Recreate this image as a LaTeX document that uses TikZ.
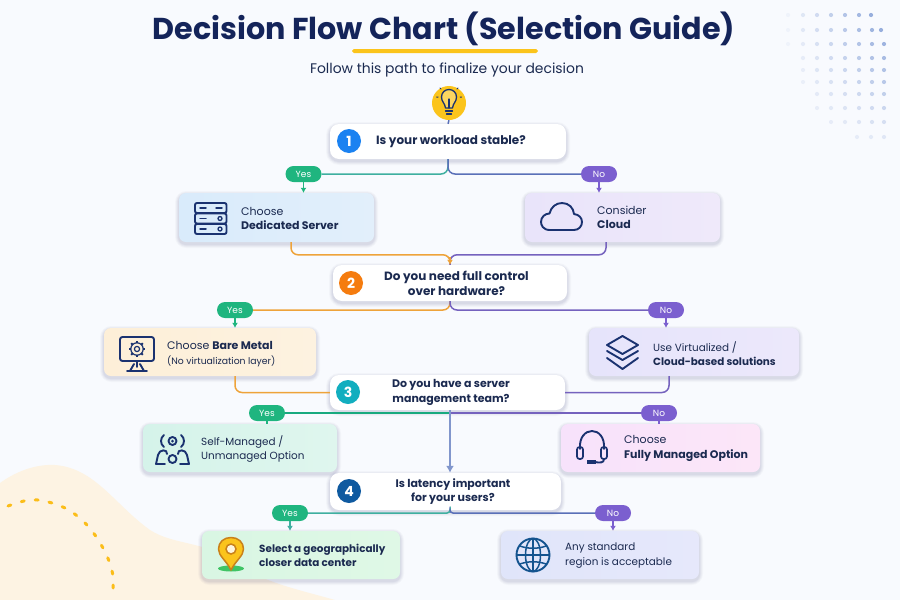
\documentclass[tikz,border=0pt]{standalone}
\usepackage{fontspec}
\setmainfont{Poppins}
\usetikzlibrary{arrows.meta,calc}
\definecolor{bgc}{HTML}{F8FAFE}
\definecolor{navy}{HTML}{14245A}
\definecolor{ink}{HTML}{1B2A50}
\definecolor{iconc}{HTML}{1A3270}
\definecolor{greenc}{HTML}{1FB57F}
\definecolor{purplec}{HTML}{7B5FCF}
\definecolor{tealline}{HTML}{3FAFA0}
\definecolor{blueline}{HTML}{5A70B8}
\definecolor{orangeline}{HTML}{EEA33A}
\definecolor{purpline}{HTML}{7562BE}
\definecolor{downline}{HTML}{8196CC}
\definecolor{blobc}{HTML}{FDF3E3}
\definecolor{sunc}{HTML}{FBC41C}
\definecolor{globec}{HTML}{14548F}
\definecolor{pinc}{HTML}{C9811A}
\definecolor{dotc}{HTML}{6F8FD0}
\definecolor{oneC}{HTML}{1B82F1}
\definecolor{twoC}{HTML}{F57C0F}
\definecolor{threeC}{HTML}{12AEBF}
\definecolor{fourC}{HTML}{0F5AA0}
\definecolor{dediA}{HTML}{D9EBFB}\definecolor{dediB}{HTML}{E2EFFB}
\definecolor{clouA}{HTML}{E9E4FA}\definecolor{clouB}{HTML}{EFE9FA}
\definecolor{bareA}{HTML}{FDEFD8}\definecolor{bareB}{HTML}{FDF2E0}
\definecolor{virtA}{HTML}{E6E4FB}\definecolor{virtB}{HTML}{ECE8FB}
\definecolor{selfA}{HTML}{D5F3EA}\definecolor{selfB}{HTML}{DFF6EE}
\definecolor{fullA}{HTML}{F7E2FB}\definecolor{fullB}{HTML}{FCE6F8}
\definecolor{geoA}{HTML}{D9F6E3}\definecolor{geoB}{HTML}{DFF8E6}
\definecolor{anyA}{HTML}{E0E5FA}\definecolor{anyB}{HTML}{E6E8FB}
\tikzset{
  pilltag/.style={rectangle,rounded corners=8pt,minimum width=36pt,minimum height=16pt,inner sep=0pt,text=white,font=\fontsize{9}{10}\selectfont},
  yespill/.style={pilltag,fill=greenc},
  nopill/.style={pilltag,fill=purplec},
  numdot/.style={circle,minimum size=24pt,inner sep=0pt,text=white,font=\fontsize{14}{14}\bfseries\selectfont},
  questext/.style={align=center,text=ink,font=\fontsize{11}{14.5}\bfseries\selectfont,inner sep=0pt},
  bigques/.style={questext,font=\fontsize{12}{15.5}\bfseries\selectfont},
  cardtext/.style={align=left,anchor=west,text=ink,font=\fontsize{11}{14.5}\selectfont,inner sep=0pt},
  slimtext/.style={cardtext,font=\fontsize{10.4}{14.5}\selectfont},
  link/.style={line width=1.5pt,rounded corners=7pt},
  drop/.style={line width=1.4pt,-{Latex[length=5pt,width=6pt]}},
  icon/.style={draw=iconc,line width=1.9pt,line cap=round,line join=round},
  globeline/.style={draw=globec,line width=1.5pt,line cap=round},
}
% name x1 y1 x2 y2 colour1 colour2 radius
\newcommand{\cardbox}[8]{%
  \foreach \g/\o in {4/0.025,3/0.03,2/0.035,1/0.04}{%
    \fill[black!70!blue,opacity=\o,rounded corners=#8+\g*1pt] ({#2-\g},{#3+2-\g}) rectangle ({#4+\g},{#5+2+\g});
  }%
  \node[rectangle,rounded corners=#8,left color=#6,right color=#7,inner sep=0pt,
    minimum width={(#4-#2)*1pt},minimum height={(#5-#3)*1pt}] (#1) at ({(#2+#4)/2},{(#3+#5)/2}) {};
}
\begin{document}
\begin{tikzpicture}[x=1pt,y=-1pt]
\useasboundingbox (0,0) rectangle (900,600);
\fill[bgc] (0,0) rectangle (900,600);
% backdrop blob and dashed arc
\fill[blobc] (0,483) .. controls (18,470) and (38,464) .. (55,465)
  .. controls (95,468) and (115,505) .. (150,530)
  .. controls (175,546) and (205,540) .. (240,565)
  .. controls (265,583) and (300,590) .. (335,600) -- (0,600) -- cycle;
\draw[sunc!90!orange,line width=3pt,line cap=round,dash pattern=on 3pt off 11pt]
  plot[smooth] coordinates {(8,506) (24,501) (38,500) (52,503) (65,508) (76,515) (86,524) (95,535) (103,548) (109,561) (113,576) (113,593)};
% dots
\foreach \yy/\xlist in {15/{788,803,817,831,845,859,871},30/{788,803,817,831,845,859,872,881},44/{788,803,817,831,845,859,872,884},58/{803,817,831,845,859,872,884},70/{803,817,831,845,859,872,884},82/{803,817,831,845,859,872,884},94/{817,831,845,859,872,884},108/{817,831,845,859,872,884},122/{831,845,859,872,884},137/{857,871,884}}{
  \foreach \xx in \xlist {
    \pgfmathsetmacro{\oo}{max(0.06,min(0.7,(\xx-780)/105*(1.15-(\yy-15)/135)*0.7))}
    \fill[dotc,opacity=\oo] (\xx,\yy) circle (2.1pt);
  }
}
% title
\node[text=navy,font=\fontsize{30.2}{32}\bfseries\selectfont,inner sep=0pt] (title) at (444,29) {Decision Flow Chart (Selection Guide)};
\fill[sunc,rounded corners=1.8pt] (352,49) rectangle (538,53);
\node[text=ink,font=\fontsize{13.9}{15}\selectfont,inner sep=0pt] (subtitle) at (447,70) {Follow this path to finalize your decision};

% cards
\cardbox{dedi}{179}{193}{374}{242}{dediA}{dediB}{7pt}
\cardbox{clou}{525}{193}{720}{242}{clouA}{clouB}{7pt}
\cardbox{bare}{104}{328}{316}{376}{bareA}{bareB}{7pt}
\cardbox{virt}{589}{328}{799}{376}{virtA}{virtB}{7pt}
\cardbox{self}{143}{424}{337}{472}{selfA}{selfB}{7pt}
\cardbox{full}{561}{424}{760}{472}{fullA}{fullB}{7pt}
\cardbox{geo}{202}{531}{400}{579}{geoA}{geoB}{7pt}
\cardbox{anyr}{501}{531}{699}{579}{anyA}{anyB}{7pt}
\cardbox{q1}{330}{124}{566}{159}{white}{white}{9pt}
\cardbox{q2}{333}{265}{567}{301}{white}{white}{9pt}
\cardbox{q3}{330}{375}{565}{410}{white}{white}{9pt}
\cardbox{q4}{330}{473}{561}{510}{white}{white}{9pt}

% bulb badge
\node[circle,fill=sunc,minimum size=34pt,inner sep=0pt] (bulb) at (449,103) {};

% pills
\node[yespill] (y1) at (303.5,174) {Yes};
\node[nopill]  (n1) at (599,174) {No};
\node[yespill] (y2) at (235,310) {Yes};
\node[nopill]  (n2) at (666,310) {No};
\node[yespill] (y3) at (267,413) {Yes};
\node[nopill]  (n3) at (659,413) {No};
\node[yespill] (y4) at (290,513) {Yes};
\node[nopill]  (n4) at (613,513) {No};

% connectors
\draw[line width=1.5pt,blueline] (bulb.south) -- (q1.north);
\draw[link,tealline] (q1.south) |- (y1.east);
\draw[link,blueline] (q1.south) |- (n1.west);
\draw[drop,greenc] (y1.south) -- (y1.south |- dedi.north);
\draw[drop,purplec] (n1.south) -- (n1.south |- clou.north);
\draw[link,orangeline] ([xshift=14.5pt]dedi.south) |- ([yshift=10pt]q2.north) -- (q2.north);
\draw[link,purpline] ([xshift=-16.5pt]clou.south) |- ([yshift=10pt]q2.north) -- (q2.north);
\draw[-{Latex[length=5pt,width=6pt]},line width=1.2pt,orangeline] ([yshift=8pt]q2.north) -- (q2.north);
\draw[link,orangeline] (q2.south) |- (y2.east);
\draw[link,purpline] (q2.south) |- (n2.west);
\draw[drop,greenc] (y2.south) -- (y2.south |- bare.north);
\draw[drop,purplec] (n2.south) -- (n2.south |- virt.north);
\draw[link,orangeline] ([xshift=25pt]bare.south) |- (q3.west);
\draw[link,purpline] ([xshift=-25pt]virt.south) |- (q3.east);
\draw[line width=1.5pt,greenc!80!teal] (y3.east) -- ([xshift=2.5pt]q3.south |- y3.east);
\draw[line width=1.5pt,purpline] ([xshift=2.5pt]q3.south |- n3.west) -- (n3.west);
\draw[line width=1.4pt,downline,-{Latex[length=7pt,width=8pt]}] ([xshift=2.5pt]q3.south) -- ([xshift=4.5pt]q4.north);
\draw[line width=1.4pt,greenc] (y3.south) -- (y3.south |- self.north);
\draw[line width=1.4pt,purplec] (n3.south) -- (n3.south |- full.north);
\draw[link,tealline,rounded corners=3pt] ([xshift=4.5pt]q4.south) |- (y4.east);
\draw[link,blueline,rounded corners=3pt] ([xshift=4.5pt]q4.south) |- (n4.west);
\draw[drop,tealline] (y4.south) -- (y4.south |- geo.north);
\draw[drop,purplec] (n4.south) -- (n4.south |- anyr.north);

% question numbers and text
\node[numdot,fill=oneC] (d1) at (349,141) {1};
\node[numdot,fill=twoC] (d2) at (351,283) {2};
\node[numdot,fill=threeC] (d3) at (348,392) {3};
\node[numdot,fill=fourC] (d4) at (349,491) {4};
\node[bigques] (t1) at (451,142) {Is your workload stable?};
\node[bigques] (t2) at (456.5,283.5) {Do you need full control\\over hardware?};
\node[questext] (t3) at (451,392.5) {Do you have a server\\management team?};
\node[questext] (t4) at (453,491.5) {Is latency important\\for your users?};

% card text
\node[cardtext] (c1) at (241,218.5) {Choose\\\textbf{Dedicated Server}};
\node[cardtext] (c2) at (597,217.5) {Consider\\\textbf{Cloud}};
\node[cardtext] (c3) at (167,354) {Choose \textbf{Bare Metal}\\{\fontsize{9.3}{12}\selectfont (No virtualization layer)}};
\node[slimtext] (c4) at (653,353.5) {Use Virtualized /\\\textbf{Cloud-based solutions}};
\node[slimtext] (c5) at (201,449) {Self-Managed /\\Unmanaged Option};
\node[cardtext] (c6) at (624,448.5) {Choose\\\textbf{Fully Managed Option}};
\node[slimtext] (c7) at (259,555.5) {\textbf{Select a geographically}\\\textbf{closer data center}};
\node[slimtext] (c8) at (565,555.5) {Any standard\\region is acceptable};

% bulb icon
\draw[icon,fill=sunc!70!white,line width=1.3pt] (445.5,108) .. controls (445,103) and (441.5,102) .. (441.5,97)
  .. controls (441.5,92.5) and (445,89.5) .. (449,89.5) .. controls (453,89.5) and (456.5,92.5) .. (456.5,97)
  .. controls (456.5,102) and (453,103) .. (452.5,108) -- cycle;
\draw[icon,line width=1.3pt] (445.5,111) -- (452.5,111) (446.5,114) -- (451.5,114) (449,108) -- (449,99);
\draw[icon,line width=1pt] (438,97) -- (436.5,97) (460,97) -- (461.5,97) (441,89) -- (440,88) (457,89) -- (458,88);
% server icon
\foreach \yy in {203,213.5,224}{
  \draw[icon,rounded corners=2pt] (195,\yy) rectangle (226.5,\yy+10);
  \draw[icon,line width=1.5pt] (200,\yy+5) -- (206,\yy+5);
}
\draw[icon,line width=1.5pt] (216,208) -- (222,208);
\draw[icon,line width=1.3pt] (220,218.5) circle (2pt) (220,229) circle (2pt);
% cloud icon
\draw[icon] (550,230) .. controls (543,230) and (541,225) .. (541,222) .. controls (541,217) and (545,213.5) .. (549.5,213.5)
  .. controls (551,207) and (556,203) .. (562,203) .. controls (569,203) and (573.5,208) .. (574,214)
  .. controls (579,214.5) and (582,218) .. (582,222) .. controls (582,226) and (579,230) .. (574,230) -- cycle;
% monitor and gear
\draw[icon,rounded corners=2.5pt] (120,337) rectangle (154,361);
\draw[icon] (137,361) -- (137,367) (127,371) -- (147,371) (130,371) -- (134,364) (144,371) -- (140,364);
\draw[icon,line width=1.2pt] (137,349) circle (2.6pt);
\foreach \aa in {0,45,...,315}{
  \draw[icon,line width=2pt,line cap=butt] ($(137,349)+(\aa:6pt)$) -- ($(137,349)+(\aa:8.2pt)$);
}
\draw[icon,line width=1.2pt] (137,349) circle (6.2pt);
% layers
\draw[icon] (622.5,336) -- (638,345) -- (622.5,354) -- (607,345) -- cycle;
\draw[icon] (607,351) -- (622.5,360) -- (638,351);
\draw[icon] (607,358) -- (622.5,369) -- (638,358);
% people icon
\draw[icon] (172.5,441) circle (4pt);
\fill[iconc] (172.5,441) circle (1.5pt);
\draw[icon] (164,435) .. controls (160,438) and (160,444) .. (164,447);
\draw[icon] (181,435) .. controls (185,438) and (185,444) .. (181,447);
\draw[icon] (156,464) -- (158,455) .. controls (159,449) and (168,449) .. (167,454);
\draw[icon] (189,464) -- (187,455) .. controls (186,449) and (177,449) .. (178,454);
\draw[icon] (156,464) -- (165,464) (180,464) -- (189,464);
\draw[icon] (172.5,459) circle (4pt);
% headset
\draw[icon] (580,449) .. controls (578,425) and (606,425) .. (604,449);
\draw[icon,rounded corners=2.5pt,line width=1.7pt] (577,447) rectangle (583,459);
\draw[icon,rounded corners=2.5pt,line width=1.7pt] (601,447) rectangle (607,459);
\draw[icon] (604,459) .. controls (604,463) and (600,463) .. (595,462);
\fill[iconc] (587,459.5) rectangle (596,463.5);
% pin
\fill[greenc!80!lime] (231,568.5) ellipse (13pt and 3pt);
\draw[draw=pinc,fill=sunc,line width=1.5pt,line join=round] (231,570) .. controls (226,560) and (218.5,556) .. (218.5,549)
  .. controls (218.5,542) and (224,537.5) .. (231,537.5) .. controls (238,537.5) and (243.5,542) .. (243.5,549)
  .. controls (243.5,556) and (236,560) .. (231,570) -- cycle;
\draw[draw=pinc,fill=white!85!sunc,line width=1.5pt] (231,549) circle (5pt);
% globe
\draw[globeline,line width=1.9pt] (533,555) circle (16.5pt);
\draw[globeline] (533,555) ellipse (7.5pt and 16.5pt);
\draw[globeline] (533,538.5) -- (533,571.5) (516.5,555) -- (549.5,555);
\draw[globeline] (520,546) .. controls (528,549) and (538,549) .. (546,546);
\draw[globeline] (520,564) .. controls (528,561) and (538,561) .. (546,564);
\end{tikzpicture}
\end{document}
